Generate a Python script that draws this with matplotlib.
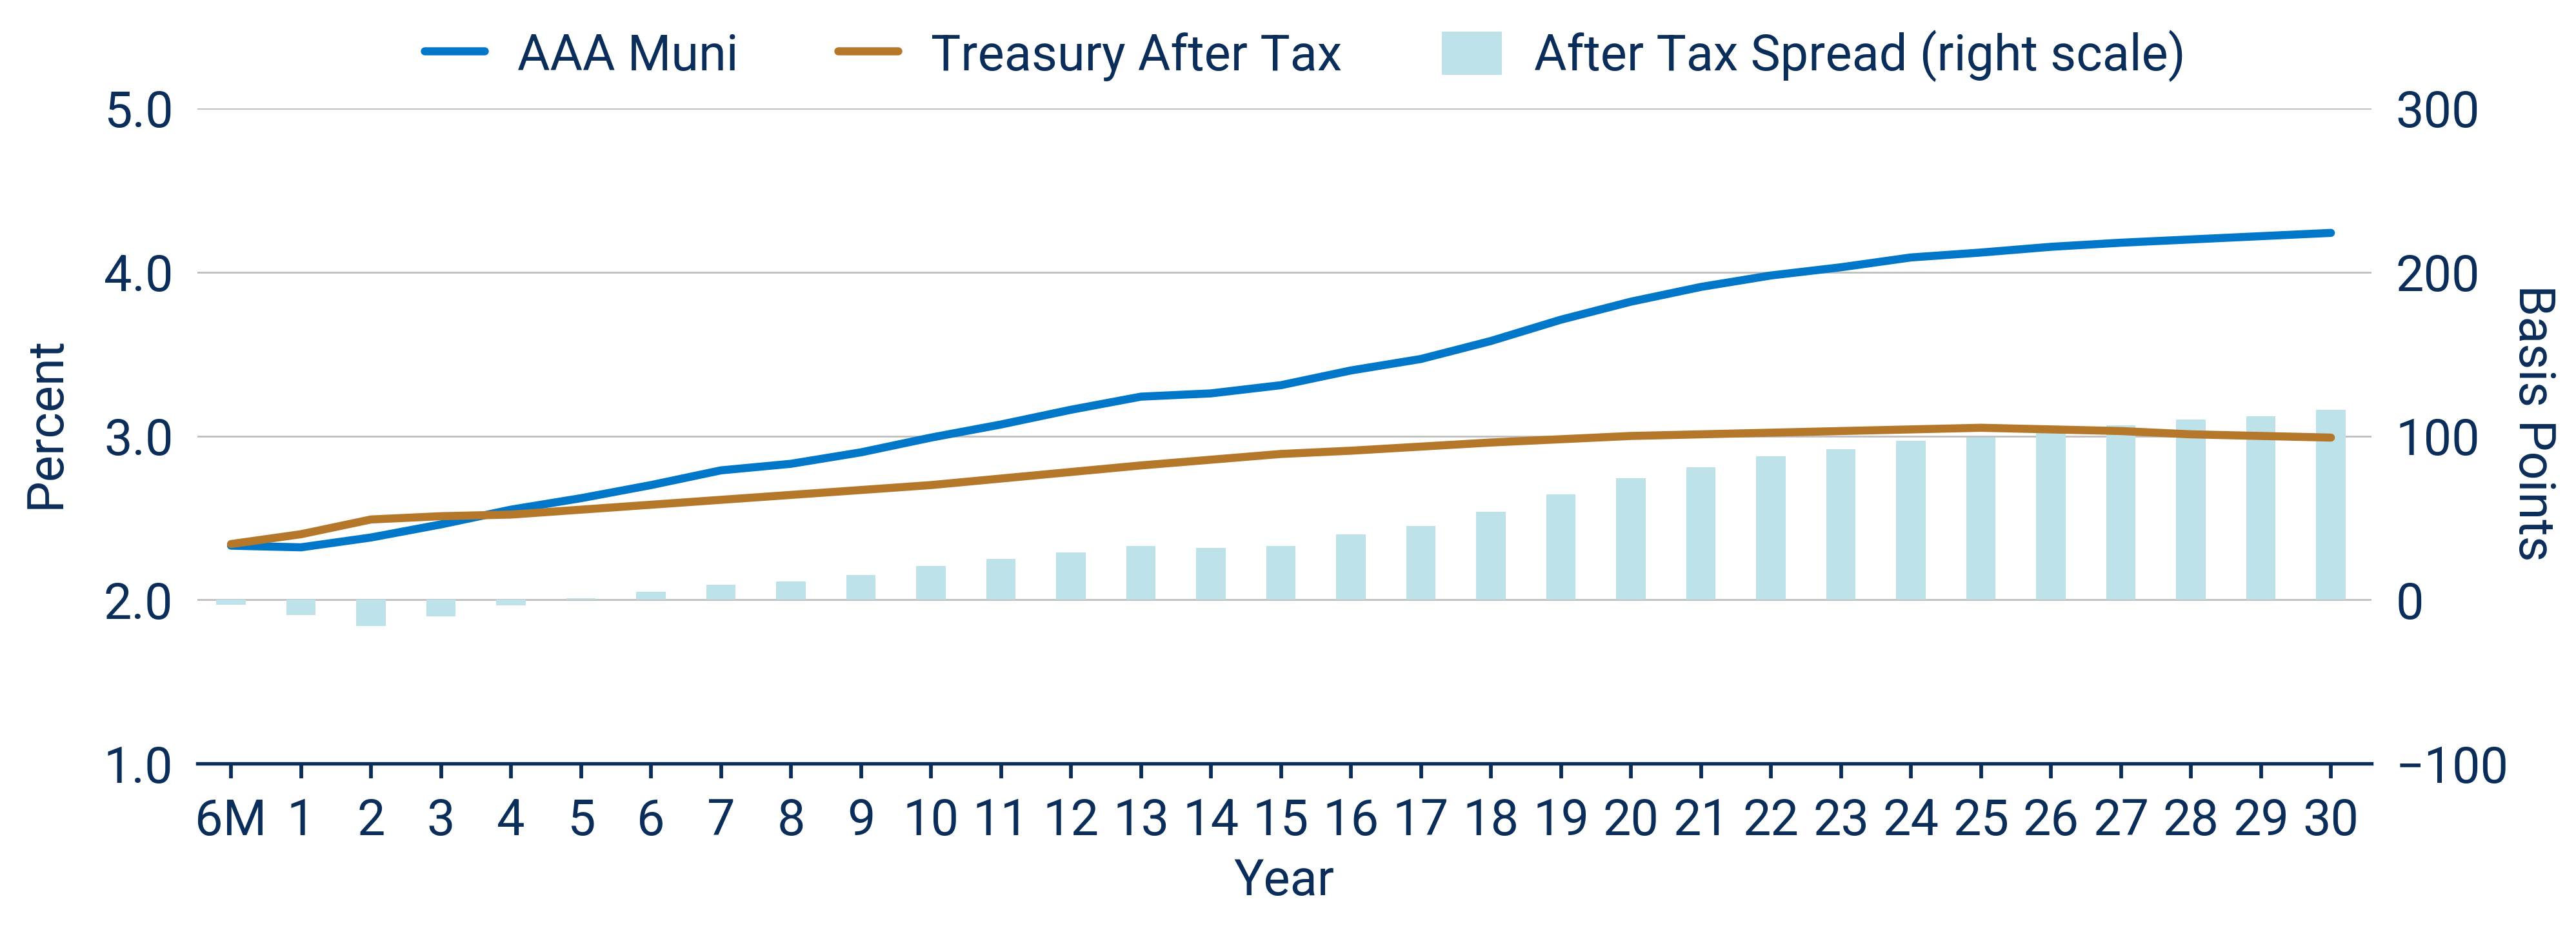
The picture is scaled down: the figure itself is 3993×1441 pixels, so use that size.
import numpy as np
import matplotlib
matplotlib.use("Agg")
import matplotlib.pyplot as plt
import matplotlib.patches as mpatches
from matplotlib.legend_handler import HandlerPatch

# data
years = ["6M"] + [str(i) for i in range(1, 31)]
muni = [2.33, 2.32, 2.38, 2.46, 2.55, 2.62, 2.70, 2.79, 2.83, 2.90,
        2.99, 3.07, 3.16, 3.24, 3.26, 3.31, 3.40, 3.47, 3.58, 3.71,
        3.82, 3.91, 3.98, 4.03, 4.09, 4.12, 4.155, 4.18, 4.20, 4.22, 4.24]
treasury = [2.34, 2.40, 2.49, 2.51, 2.52, 2.55, 2.58, 2.61, 2.64, 2.67,
            2.70, 2.74, 2.78, 2.82, 2.855, 2.89, 2.91, 2.935, 2.96, 2.98,
            3.00, 3.01, 3.02, 3.03, 3.04, 3.05, 3.04, 3.03, 3.01, 3.00, 2.99]
spread = [-3, -9.5, -16, -10, -3.6, 1, 4.7, 9, 11, 15,
          20.6, 25, 29, 32.7, 31.5, 33, 40, 45, 53.7, 64.5,
          74, 81, 87.7, 92, 97, 99, 104, 106.5, 110, 112, 116]

navy = "#0B2D59"
blue = "#0077C8"
orange = "#B5772A"
light = "#BDE2EA"
grid = "#BDBDBD"

plt.rcParams['font.family'] = ['Roboto', 'DejaVu Sans']
fs = 18.6
W, H = 3993, 1441

fig = plt.figure(figsize=(W / 300, H / 300), dpi=300)
# axes box in pixels: left 306, right 3676, top 168, bottom 1183
ax = fig.add_axes([306 / W, 1 - 1183 / H, 3370 / W, 1015 / H])
ax2 = ax.twinx()
ax.set_zorder(ax2.get_zorder() + 1)
ax.patch.set_visible(False)

x = np.arange(len(years))

# bars on the right scale
ax2.bar(x, spread, width=0.42, color=light, zorder=2,
        label="After Tax Spread (right scale)")
ax2.set_ylim(-100, 300)
ax2.set_yticks([-100, 0, 100, 200, 300])
ax2.set_axisbelow(True)
ax2.yaxis.grid(True, color=grid, linewidth=0.65)

# lines on the left scale
ax.plot(x, muni, color=blue, linewidth=3.0, solid_capstyle="round",
        solid_joinstyle="round", label="AAA Muni")
ax.plot(x, treasury, color=orange, linewidth=3.0, solid_capstyle="round",
        solid_joinstyle="round", label="Treasury After Tax")
ax.set_ylim(1, 5)
ax.set_yticks([1, 2, 3, 4, 5])
ax.set_yticklabels(["%.1f" % v for v in [1, 2, 3, 4, 5]])
ax.set_xlim(-0.48, 30.58)
ax.set_xticks(x)
ax.set_xticklabels(years)

for a in (ax, ax2):
    for s in ("top", "left", "right", "bottom"):
        a.spines[s].set_visible(False)
    a.tick_params(axis="y", length=0, labelsize=fs, labelcolor=navy, pad=9)
ax.spines["bottom"].set_visible(True)
ax.spines["bottom"].set_color(navy)
ax.spines["bottom"].set_linewidth(1.3)
ax.tick_params(axis="x", length=5.5, width=1.4, color=navy, labelsize=fs,
               labelcolor=navy, pad=7)
ax2.tick_params(axis="x", length=0)

fig.text(1990 / W, 1 - 1365 / H, "Year", fontsize=fs, color=navy,
         ha="center", va="center")
fig.text(71 / W, 1 - 655 / H, "Percent", fontsize=fs, color=navy,
         rotation=90, ha="center", va="center")
fig.text(3926 / W, 1 - 655 / H, "Basis Points", fontsize=fs, color=navy,
         rotation=270, ha="center", va="center")


def square_patch(legend, orig_handle, xdescent, ydescent, width, height,
                 fontsize):
    side = height
    return mpatches.Rectangle((width / 2 - side / 2 - xdescent, -ydescent),
                              side, side)


h1, l1 = ax.get_legend_handles_labels()
h2, l2 = ax2.get_legend_handles_labels()
fig.legend(h1 + h2, l1 + l2, loc="center", ncol=3, frameon=False,
           fontsize=fs, labelcolor=navy, bbox_to_anchor=(0.5067, 1 - 87 / H),
           handlelength=1.2, handleheight=0.95, columnspacing=2.0,
           handletextpad=0.65,
           handler_map={mpatches.Rectangle: HandlerPatch(patch_func=square_patch)})

fig.savefig("out.png", dpi=300)
